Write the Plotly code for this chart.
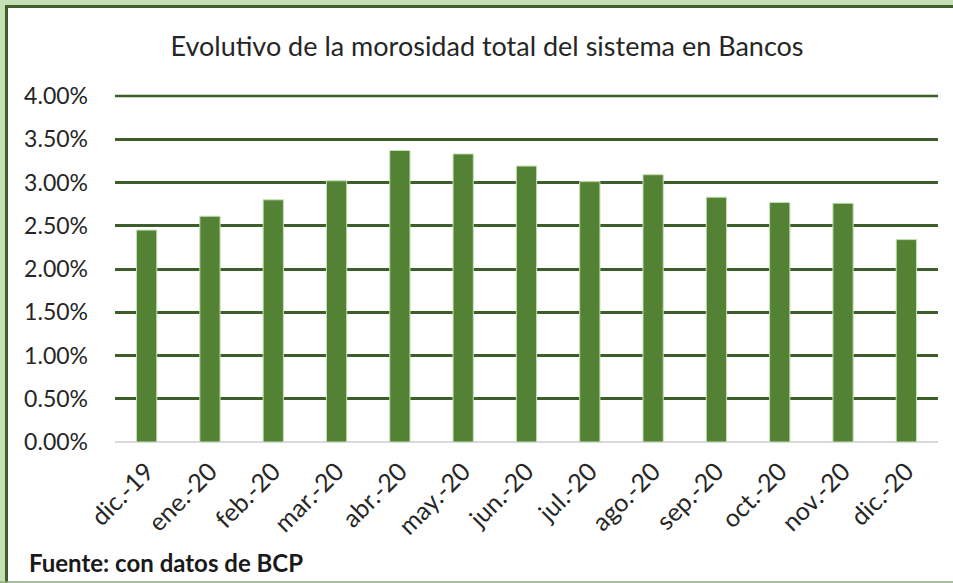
import plotly.graph_objects as go

categories = ["dic.-19", "ene.-20", "feb.-20", "mar.-20", "abr.-20", "may.-20", "jun.-20",
              "jul.-20", "ago.-20", "sep.-20", "oct.-20", "nov.-20", "dic.-20"]
morosidad = [0.0245, 0.0261, 0.0280, 0.0302, 0.0337, 0.0333, 0.0319,
             0.0301, 0.0309, 0.0283, 0.0277, 0.0276, 0.0234]
y_ticks = [0, 0.005, 0.01, 0.015, 0.02, 0.025, 0.03, 0.035, 0.04]

W, H = 953, 583
L, R, T, B = 115, 938, 96, 442
FONT = "Lato, 'Open Sans', sans-serif"

def px(x):
    return (x - L) / (R - L)

def py(y):
    return (B - y) / (B - T)

fig = go.Figure(go.Bar(
    x=categories, y=morosidad,
    marker=dict(color="#548235", line=dict(color="#c5e0b4", width=1)),
))

shapes = [
    dict(type="rect", xref="paper", yref="paper", x0=px(0), x1=px(5), y0=py(H), y1=py(0),
         fillcolor="#c5e0b4", line=dict(width=0), layer="above"),
    dict(type="rect", xref="paper", yref="paper", x0=px(0), x1=px(W), y0=py(5), y1=py(0),
         fillcolor="#c5e0b4", line=dict(width=0), layer="above"),
    dict(type="rect", xref="paper", yref="paper", x0=px(5), x1=px(8), y0=py(H), y1=py(5),
         fillcolor="#3d5e2a", line=dict(width=0), layer="above"),
    dict(type="rect", xref="paper", yref="paper", x0=px(5), x1=px(W), y0=py(8), y1=py(5),
         fillcolor="#3d5e2a", line=dict(width=0), layer="above"),
    dict(type="line", xref="paper", yref="paper", x0=px(0), x1=px(W), y0=py(582), y1=py(582),
         line=dict(color="#8fa87e", width=1.5), layer="above"),
    # top gridline at 4.00% (at the plot edge, drawn unclipped)
    dict(type="line", xref="paper", yref="paper", x0=0, x1=1, y0=1, y1=1,
         line=dict(color="#3d5e2a", width=2.5), layer="below"),
]

fig.update_layout(
    width=W, height=H,
    margin=dict(l=L, r=W - R, t=T, b=H - B, pad=0),
    paper_bgcolor="white", plot_bgcolor="white",
    bargap=0.68,
    showlegend=False,
    font=dict(family=FONT, color="#262626", size=23),
    title=dict(text="Evolutivo de la morosidad total del sistema en Bancos",
               x=487 / W, xanchor="center", xref="container",
               y=1 - 47 / H, yanchor="middle", yref="container",
               font=dict(family=FONT, size=27, color="#262626")),
    xaxis=dict(tickangle=-45, showgrid=False, showline=False, ticks="",
               ticklabelstandoff=9, tickfont=dict(size=25)),
    yaxis=dict(range=[0, 0.04], tickvals=y_ticks, tickformat=".2%",
               showgrid=True, gridcolor="#3d5e2a", gridwidth=2.5,
               zeroline=True, zerolinecolor="#d9d9d9", zerolinewidth=1.5,
               ticks="", ticklabelstandoff=26, tickfont=dict(size=23)),
    shapes=shapes,
    annotations=[dict(text="<b>Fuente: con datos de BCP</b>", xref="paper", yref="paper",
                      x=px(27), y=py(562), xanchor="left", yanchor="middle",
                      showarrow=False, font=dict(family=FONT, size=24, color="#1a1a1a"))],
)

fig.write_html("out.html", config={"displayModeBar": False},
               post_script="document.body.style.margin='0';document.body.style.overflow='hidden';")
